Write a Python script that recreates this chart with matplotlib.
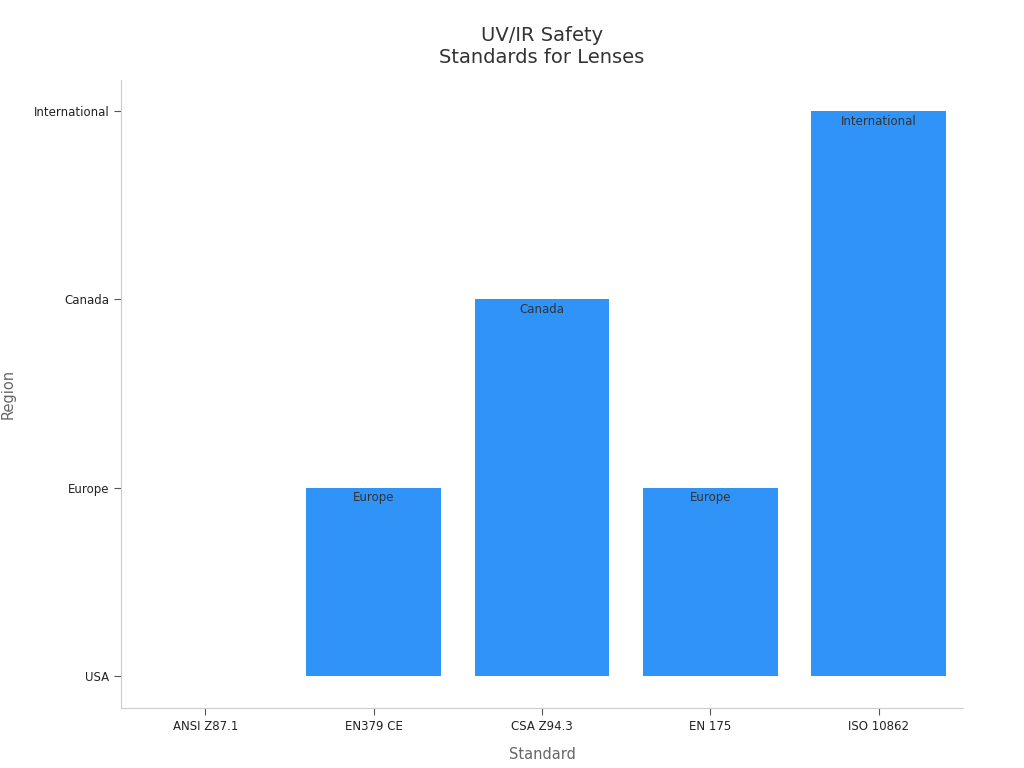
import matplotlib.pyplot as plt

standards = ['ANSI Z87.1', 'EN379 CE', 'CSA Z94.3', 'EN 175', 'ISO 10862']
regions = ['USA', 'Europe', 'Canada', 'Europe', 'International']
region_levels = ['USA', 'Europe', 'Canada', 'International']

vals = [region_levels.index(r) for r in regions]

fig = plt.figure(figsize=(10.24, 7.68), dpi=100)
ax = fig.add_axes([121/1024, 60/768, 842/1024, 628/768])

x = range(len(standards))
ax.bar(x, vals, width=0.8, color='#2F93F8', linewidth=0)
for xi, v, r in zip(x, vals, regions):
    if v > 0:
        ax.text(xi, v - 0.02, r, ha='center', va='top', fontsize=8.5, color='#333333')

ax.set_xticks(list(x))
ax.set_xticklabels(standards, fontsize=8.5)
ax.set_yticks(range(len(region_levels)))
ax.set_yticklabels(region_levels, fontsize=8.5)
ax.set_xlim(-0.5, 4.5)
ax.set_ylim(-0.17, 3.165)
ax.set_xlabel('Standard', fontsize=10.5, color='#666666', labelpad=10)
ax.set_ylabel('Region', fontsize=10.5, color='#666666', labelpad=8)
ax.yaxis.set_label_coords(-0.125, 0.5)
ax.set_title('UV/IR Safety\nStandards for Lenses', fontsize=14, color='#333333', pad=12)
for s in ['top', 'right']:
    ax.spines[s].set_visible(False)
for s in ['left', 'bottom']:
    ax.spines[s].set_color('#cccccc')
ax.tick_params(colors='#555555', labelcolor='#222222', length=5)

fig.savefig('out.png', dpi=100)
